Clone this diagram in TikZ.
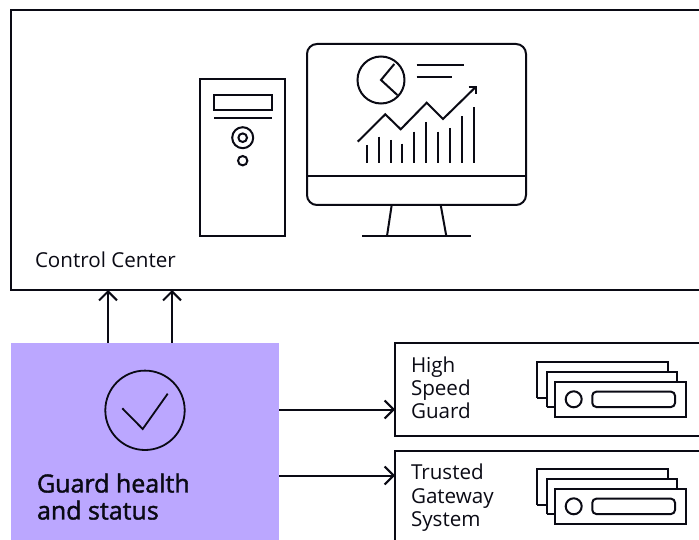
\documentclass[tikz,border=0pt]{standalone}
\usepackage{fontspec}
\setmainfont{Open Sans}
\newfontfamily\guardfont[FakeBold=1.6]{Open Sans}
\usetikzlibrary{arrows.meta,calc}
\definecolor{guardfill}{HTML}{BBA7FF}
\definecolor{ink}{HTML}{0A0A14}
\tikzset{
  ln/.style={draw=ink,line width=2pt,line cap=butt,line join=miter},
  thinln/.style={draw=ink,line width=1.8pt},
  box/.style={ln,fill=white,rectangle,anchor=north west,inner sep=0pt,outer sep=0pt},
  conn/.style={draw=ink,line width=2pt,-{Straight Barb[length=9pt,width=18pt,line width=2pt]}},
  lbl/.style={anchor=north west,inner sep=0pt,outer sep=0pt,align=left,text=ink,font=\fontsize{20.6}{23.4}\selectfont},
  pics/serverstack/.style={code={
    \draw[ln] (0,35.4) -- (0,0) -- (130.7,0) -- (130.7,10);
    \draw[ln] (0,35.4) -- (9.7,35.4);
    \draw[ln] (9.7,45) -- (9.7,10) -- (140.3,10) -- (140.3,19.4);
    \draw[ln] (9.7,45) -- (18,45);
    \draw[ln] (18,19.4) rectangle (148.7,54.7);
    \draw[ln] (36.7,37) circle (8);
    \draw[ln,rounded corners=4pt] (55.3,29.4) rectangle (138,44.7);
  }}
}
\begin{document}
\begin{tikzpicture}[x=1pt,y=-1pt]
\useasboundingbox (0,0) rectangle (699,540);
\clip (0,0) rectangle (699,540);
% boxes
\node[box,minimum width=700pt,minimum height=280pt] (control) at (11,10) {};
\node[box,draw=none,fill=guardfill,minimum width=268pt,minimum height=197pt] (guard) at (11,343) {};
\node[box,minimum width=310pt,minimum height=92.5pt] (hsg) at (395,343.4) {};
\node[box,minimum width=310pt,minimum height=100pt] (tgs) at (395,450.8) {};
% labels
\node[lbl] (controllabel) at (35,252) {Control Center};
\node[lbl] (hsglabel) at (411,356.5) {High\\Speed\\Guard};
\node[lbl] (tgslabel) at (411,464) {Trusted\\Gateway\\System};
\node[lbl,font=\fontsize{25}{27}\guardfont] (guardlabel) at (37,473.5) {Guard health\\and status};
% connectors
\coordinate (a1) at (108,0);
\coordinate (a2) at (172,0);
\coordinate (b1) at (0,409.5);
\coordinate (b2) at (0,475.5);
\draw[conn] (a1 |- guard.north) -- (a1 |- control.south);
\draw[conn] (a2 |- guard.north) -- (a2 |- control.south);
\draw[conn] (guard.east |- b1) -- (hsg.west |- b1);
\draw[conn] (guard.east |- b2) -- (tgs.west |- b2);
% check icon
\draw[thinln] (145,410.3) circle (39.7);
\draw[thinln] (122.3,408.3) -- (142.7,429) -- (167.7,393.7);
% tower
\draw[ln] (200,78.7) rectangle (285,235.7);
\draw[ln] (213.7,95) rectangle (272,110);
\draw[ln] (214,118.3) -- (272,118.3);
\draw[ln] (242.7,137.7) circle (10.5);
\draw[ln] (242.7,137.7) circle (4.3);
\draw[ln] (242.7,160.7) circle (4.7);
% monitor
\draw[ln,rounded corners=10pt] (307,44) rectangle (526,205);
\draw[ln] (307,176) -- (526,176);
\draw[ln] (391.7,205) -- (387,236);
\draw[ln] (440.7,205) -- (446.3,236);
\draw[ln] (362,236) -- (471,236);
% pie
\draw[ln] (381,80) ++(23.5,0) arc[start angle=0,end angle=360,radius=23.5];
\draw[ln] (394.3,64) -- (381,80) -- (397.3,95);
\draw[ln] (416.7,64.7) -- (464,64.7);
\draw[ln] (416.7,77.3) -- (452.3,77.3);
% trend
\draw[ln] (357.7,141.7) -- (385.3,114.3) -- (400.7,129.3) -- (426.7,102.7) -- (443,119) -- (476,86.7);
\draw[ln] (468.7,86.7) -- (476,86.7) -- (476,94);
% bars
\foreach \bx/\bt in {366.7/145,378.7/136.7,390.7/140,402.3/143.7,414.3/131.7,426/122,438/131.7,450/128,461.7/116.3,473.7/107.3}
  \draw[ln] (\bx,\bt) -- (\bx,163);
% servers
\pic at (537,362.3) {serverstack};
\pic at (537,469.3) {serverstack};
\end{tikzpicture}
\end{document}
